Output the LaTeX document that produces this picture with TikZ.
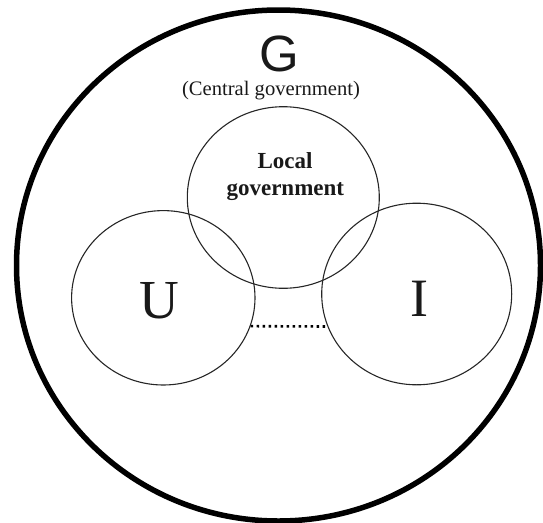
\documentclass[tikz,border=0pt]{standalone}
\usepackage{fontspec}
\setmainfont{Liberation Serif}
\newfontfamily\gfont{Liberation Sans}
\usetikzlibrary{shapes.geometric}
\begin{document}
\begin{tikzpicture}[x=1pt,y=-1pt,
  outerring/.style={draw, ellipse, inner sep=0pt, line width=5.5pt},
  ring/.style={draw, ellipse, inner sep=0pt, line width=1.1pt, draw=black!85},
  label/.style={inner sep=0pt, anchor=base, text=black!90},
  link/.style={line width=2.6pt, dash pattern=on 2.6pt off 3.4pt}]
\useasboundingbox (0,0) rectangle (543,522);

% central government: the outer ring
\node[outerring, minimum width=524pt, minimum height=511pt] (central) at (278.5,265.5) {};

% local government and the two actors U and I
\node[ring, minimum width=192pt, minimum height=181.6pt] (local) at (283.3,197.5) {};
\node[ring, minimum width=183.4pt, minimum height=174.4pt] (ucirc) at (163.3,297.8) {};
\node[ring, minimum width=190pt, minimum height=181.6pt] (icirc) at (416.7,294) {};

% texts
\node[label, font=\gfont\fontsize{51}{51}\selectfont] (gtext) at (279,71.7) {G};
\node[label, font=\fontsize{20.6}{24}\selectfont] (ctext) at (271,95) {(Central government)};
\node[label, font=\fontsize{23}{27}\selectfont\bfseries] (ltext1) at (285,168) {Local};
\node[label, font=\fontsize{23}{27}\selectfont\bfseries] (ltext2) at (285.3,195) {government};
\node[label, font=\fontsize{55}{55}\selectfont] (utext) at (159.3,318.3) {U};
\node[label, font=\fontsize{54}{54}\selectfont] (itext) at (419,316.7) {I};

% dotted link between U and I
\draw[link] (ucirc.-18.7) -- (icirc.200.5);
\end{tikzpicture}
\end{document}
